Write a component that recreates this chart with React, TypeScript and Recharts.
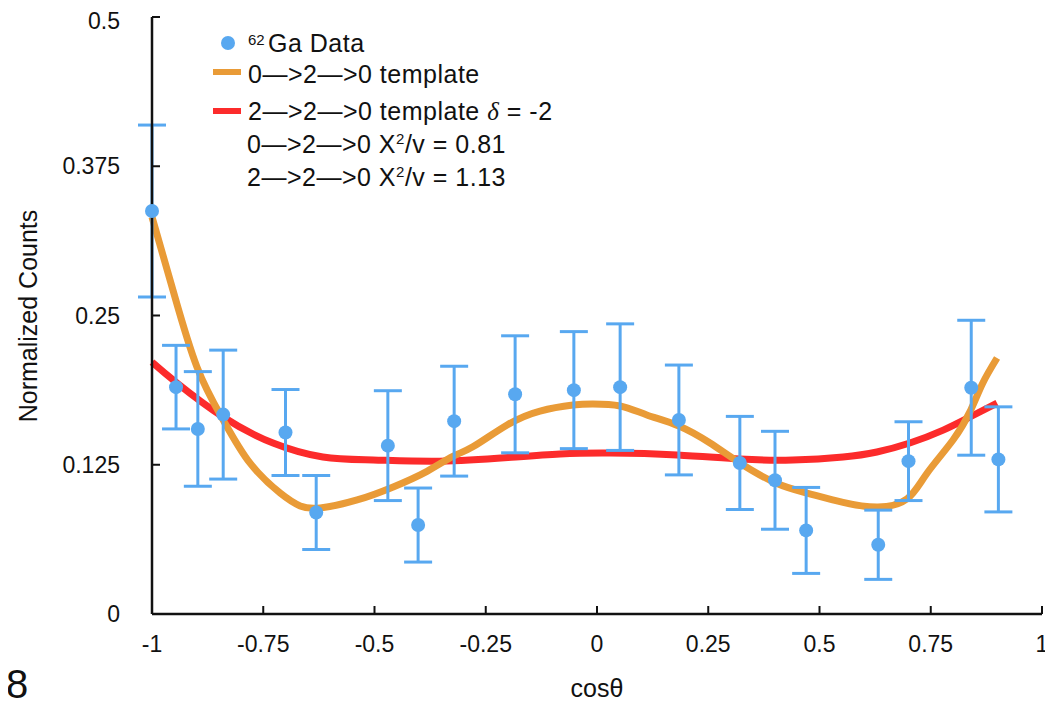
import React from "react";
import {
  ComposedChart,
  Line,
  Scatter,
  ErrorBar,
  XAxis,
  YAxis,
  Legend,
  Label,
} from "recharts";

// 62Ga angular correlation data
const cosTheta = [
  -1.0, -0.946, -0.897, -0.84, -0.7, -0.631, -0.47, -0.402, -0.321, -0.184,
  -0.052, 0.052, 0.184, 0.321, 0.4, 0.47, 0.632, 0.7, 0.841, 0.902,
];
const counts = [
  0.3375, 0.19, 0.155, 0.167, 0.152, 0.085, 0.141, 0.0745, 0.1615, 0.184,
  0.1875, 0.19, 0.1625, 0.1265, 0.112, 0.07, 0.058, 0.128, 0.1895, 0.1295,
];
const countErrors = [
  0.072, 0.035, 0.048, 0.054, 0.036, 0.031, 0.046, 0.031, 0.046, 0.049,
  0.049, 0.053, 0.046, 0.039, 0.041, 0.036, 0.029, 0.033, 0.0565, 0.044,
];

// 0->2->0 template
const template020Cos = [
  -1.0, -0.953, -0.899, -0.84, -0.78, -0.712, -0.667, -0.622, -0.539, -0.458,
  -0.382, -0.324, -0.279, -0.202, -0.128, -0.054, -0.009, 0.052, 0.112, 0.184,
  0.254, 0.321, 0.402, 0.472, 0.553, 0.631, 0.697, 0.742, 0.8, 0.84, 0.867,
  0.899,
];
const template020Counts = [
  0.3325, 0.2714, 0.2069, 0.1625, 0.1265, 0.1013, 0.0905, 0.0888, 0.0955,
  0.1064, 0.1195, 0.132, 0.14, 0.1583, 0.17, 0.175, 0.1759, 0.1742, 0.1667,
  0.1575, 0.1432, 0.1265, 0.1097, 0.1013, 0.0935, 0.0896, 0.0965, 0.1181,
  0.1457, 0.1709, 0.1935, 0.2144,
];

// 2->2->0 template, delta = -2
const template220Cos = [
  -1.0, -0.944, -0.84, -0.728, -0.616, -0.503, -0.353, -0.2, -0.083, 0.029,
  0.18, 0.321, 0.44, 0.553, 0.629, 0.703, 0.778, 0.838, 0.899,
];
const template220Counts = [
  0.211, 0.1935, 0.165, 0.1432, 0.1315, 0.129, 0.128, 0.131, 0.134, 0.1348,
  0.1332, 0.1298, 0.129, 0.1315, 0.1357, 0.1432, 0.154, 0.165, 0.1767,
];

const xTicks = [-1, -0.75, -0.5, -0.25, 0, 0.25, 0.5, 0.75, 1];
const yTicks = [0, 0.125, 0.25, 0.375, 0.5];

const BLUE = "#58a8f0";
const ORANGE = "#e99b37";
const RED = "#fc2b2b";
const FONT = "'Liberation Sans', Arial, Helvetica, sans-serif";

const points = cosTheta.map((x, i) => ({ x, y: counts[i], err: countErrors[i] }));
const curve020 = template020Cos.map((x, i) => ({ x, y: template020Counts[i] }));
const curve220 = template220Cos.map((x, i) => ({ x, y: template220Counts[i] }));

const Dot = (props: any) => (
  <circle cx={props.cx} cy={props.cy} r={7} fill={BLUE} />
);

const LegendBox = () => {
  const txt = { fontFamily: FONT, fontSize: 25, fill: "#111", letterSpacing: 0.5 };
  return (
    <svg width={420} height={190} style={{ overflow: "visible" }}>
      <circle cx={28} cy={23} r={7} fill={BLUE} />
      <text x={48} y={25} style={{ ...txt, fontSize: 15, letterSpacing: 0 }}>62</text>
      <text x={68} y={32} style={txt}>Ga Data</text>
      <line x1={13} x2={41} y1={52} y2={52} stroke={ORANGE} strokeWidth={6} />
      <text x={48} y={63} style={txt}>0—&gt;2—&gt;0 template</text>
      <line x1={13} x2={41} y1={91} y2={91} stroke={RED} strokeWidth={6} />
      <text x={48} y={100} style={txt}>
        2—&gt;2—&gt;0 template{" "}
        <tspan style={{ fontFamily: "'Liberation Serif', serif", fontStyle: "italic" }}>δ</tspan>
        {" "}= -2
      </text>
      <text x={47} y={133} style={txt}>
        0—&gt;2—&gt;0 X<tspan dy={-9} style={{ fontSize: 15 }}>2</tspan>
        <tspan dy={9}>/v = 0.81</tspan>
      </text>
      <text x={47} y={166} style={txt}>
        2—&gt;2—&gt;0 X<tspan dy={-9} style={{ fontSize: 15 }}>2</tspan>
        <tspan dy={9}>/v = 1.13</tspan>
      </text>
    </svg>
  );
};

export default function App() {
  return (
    <div style={{ position: "relative", width: 1045, height: 693 }}>
      <ComposedChart
        width={1045}
        height={693}
        margin={{ top: 9, right: 11, left: 0, bottom: 0 }}
      >
        <XAxis
          dataKey="x"
          type="number"
          domain={[-1, 1]}
          ticks={xTicks}
          height={87}
          tickSize={-8}
          tickMargin={30}
          axisLine={{ stroke: "#111", strokeWidth: 2.5 }}
          tickLine={{ stroke: "#111", strokeWidth: 2 }}
          tick={{ fill: "#111", fontSize: 23, fontFamily: FONT }}
        >
          <Label
            value="cosθ"
            position="insideBottom"
            offset={4}
            style={{ fill: "#111", fontSize: 25, fontFamily: FONT }}
          />
        </XAxis>
        <YAxis
          dataKey="y"
          type="number"
          domain={[0, 0.5]}
          ticks={yTicks}
          width={144}
          tickSize={-8}
          tickMargin={40}
          axisLine={{ stroke: "#111", strokeWidth: 2.5 }}
          tickLine={{ stroke: "#111", strokeWidth: 2 }}
          tick={{ fill: "#111", fontSize: 23, fontFamily: FONT }}
        >
          <Label
            content={() => (
              <text
                x={20}
                y={308}
                transform="rotate(-90, 20, 308)"
                textAnchor="middle"
                dominantBaseline="central"
                style={{ fill: "#111", fontSize: 25, fontFamily: FONT }}
              >
                Normalized Counts
              </text>
            )}
          />
        </YAxis>
        <Line
          data={curve220}
          dataKey="y"
          type="natural"
          stroke={RED}
          strokeWidth={7}
          dot={false}
          activeDot={false}
          isAnimationActive={false}
        />
        <Line
          data={curve020}
          dataKey="y"
          type="natural"
          stroke={ORANGE}
          strokeWidth={7}
          dot={false}
          activeDot={false}
          isAnimationActive={false}
        />
        <Scatter
          data={points}
          dataKey="y"
          fill={BLUE}
          shape={Dot}
          isAnimationActive={false}
        >
          <ErrorBar
            dataKey="err"
            direction="y"
            width={14}
            stroke={BLUE}
            strokeWidth={3}
            isAnimationActive={false}
          />
        </Scatter>
        <Legend
          layout="vertical"
          verticalAlign="middle"
          align="center"
          wrapperStyle={{ left: 192, top: 12, width: 420, height: 190 }}
          content={() => <LegendBox />}
        />
      </ComposedChart>
      <div
        style={{
          position: "absolute",
          left: -2,
          top: 652,
          fontFamily: FONT,
          fontSize: 40,
          color: "#111",
          lineHeight: "48px",
        }}
      >
        8
      </div>
    </div>
  );
}
